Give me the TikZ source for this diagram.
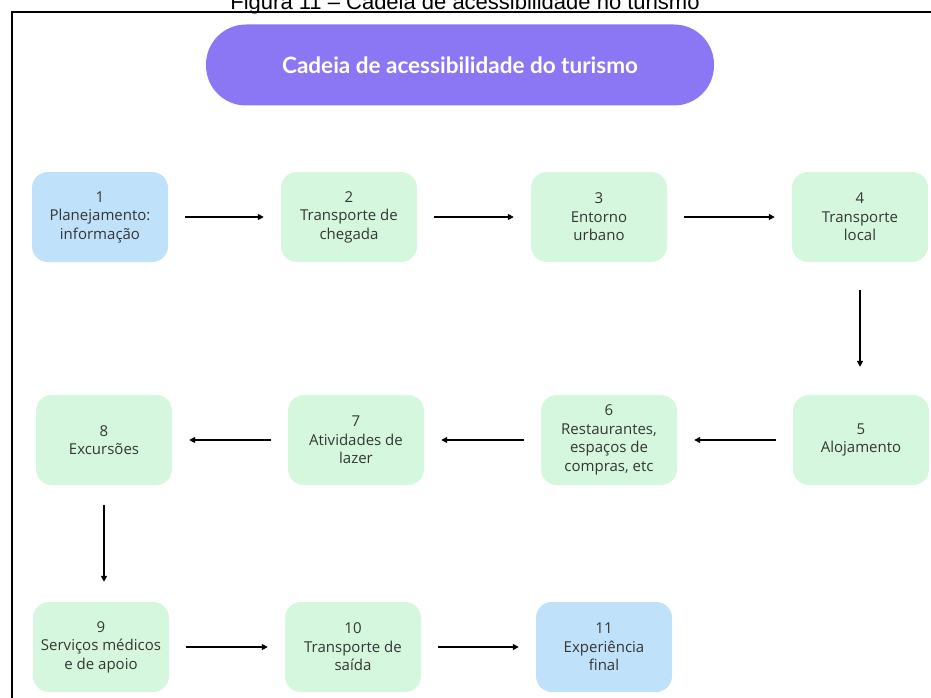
\documentclass[tikz,border=0pt]{standalone}
\usepackage{fontspec}
\setmainfont{Lato}
\newfontfamily\capfont{Liberation Sans}
\newfontfamily\boxfont{Open Sans}
\usetikzlibrary{arrows.meta}
\definecolor{pillpurple}{HTML}{8B76F4}
\definecolor{boxgreen}{HTML}{D5F7DD}
\definecolor{boxblue}{HTML}{C0E1FA}
\definecolor{txtgrey}{HTML}{353535}
\tikzset{
  stepbox/.style={rounded corners=16pt, minimum width=136pt, minimum height=90pt,
    align=center, inner sep=2pt, text=txtgrey, font=\boxfont\fontsize{15}{18.5}\selectfont},
  greenbox/.style={stepbox, fill=boxgreen},
  bluebox/.style={stepbox, fill=boxblue},
  flow/.style={line width=1.6pt, -{Triangle[length=6pt,width=6pt]}},
}
\begin{document}
\begin{tikzpicture}[x=1pt,y=-1pt]
\useasboundingbox (0,0) rectangle (931,698);
\clip (0,0) rectangle (931,698);
\fill[white] (0,0) rectangle (931,698);
% caption (clipped at the top, as in the reference)
\node[anchor=base, font=\capfont\fontsize{22}{24}\selectfont, inner sep=0pt] (cap) at (465,10) {Figura 11 – Cadeia de acessibilidade no turismo};
% frame
\draw[line width=1.8pt] (12,705) -- (12,12) -- (940,12);
% title pill
\node[fill=pillpurple, rounded corners=40pt, minimum width=508pt, minimum height=81pt,
      text=white, font=\bfseries\fontsize{22.5}{26}\selectfont] (title) at (460,65)
      {Cadeia de acessibilidade do turismo};
% row 1
\node[bluebox]  (b1) at (100,217) {1\\Planejamento:\\informação};
\node[greenbox] (b2) at (349,217) {2\\Transporte de\\chegada};
\node[greenbox] (b3) at (599,217) {3\\Entorno\\urbano};
\node[greenbox] (b4) at (860,217) {4\\Transporte\\local};
% row 2
\node[greenbox] (b5) at (861,440) {5\\Alojamento};
\node[greenbox] (b6) at (609,440) {6\\Restaurantes,\\espaços de\\compras, etc};
\node[greenbox] (b7) at (356,440) {7\\Atividades de\\lazer};
\node[greenbox] (b8) at (104,440) {8\\Excursões};
% row 3
\node[greenbox] (b9)  at (101,647) {9\\Serviços médicos\\e de apoio};
\node[greenbox] (b10) at (353,647) {10\\Transporte de\\saída};
\node[bluebox]  (b11) at (604,647) {11\\Experiência\\final};
% connectors
\draw[flow, shorten <=17pt, shorten >=17pt] (b1) -- (b2);
\draw[flow, shorten <=17pt, shorten >=17pt] (b2) -- (b3);
\draw[flow, shorten <=17pt, shorten >=17pt] (b3) -- (b4);
\draw[flow, shorten <=28pt, shorten >=28pt] (b4.south) -- (b4.south |- b5.north);
\draw[flow, shorten <=17pt, shorten >=17pt] (b5) -- (b6);
\draw[flow, shorten <=17pt, shorten >=17pt] (b6) -- (b7);
\draw[flow, shorten <=17pt, shorten >=17pt] (b7) -- (b8);
\draw[flow, shorten <=20pt, shorten >=20pt] (b8.south) -- (b8.south |- b9.north);
\draw[flow, shorten <=17pt, shorten >=17pt] (b9) -- (b10);
\draw[flow, shorten <=17pt, shorten >=17pt] (b10) -- (b11);
\end{tikzpicture}
\end{document}
